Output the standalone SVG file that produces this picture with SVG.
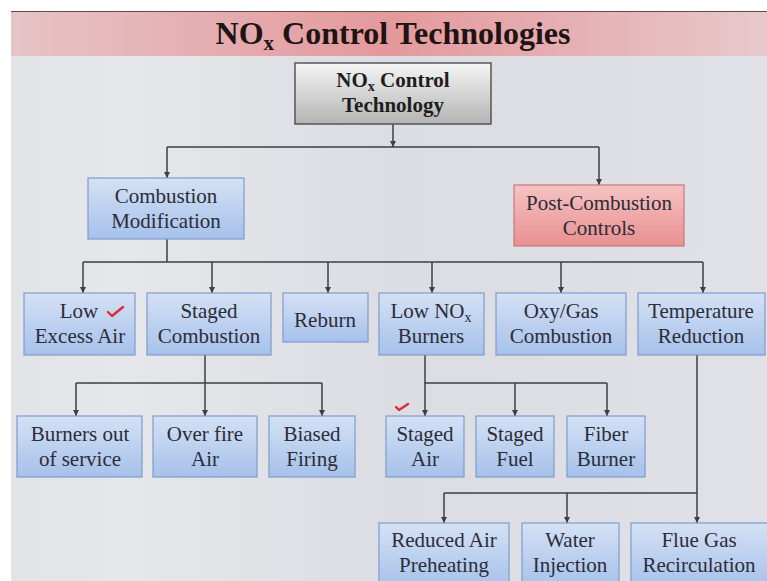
<svg xmlns="http://www.w3.org/2000/svg" width="767" height="581" viewBox="0 0 767 581">
<style>
.bx{fill:url(#gb);stroke:#7f9ccc;stroke-width:1.2}
.pk{fill:url(#gp);stroke:#c87878;stroke-width:1.2}
.rt{fill:url(#gr);stroke:#555;stroke-width:1.5}
.t{font-family:"Liberation Serif","Times New Roman",serif;font-size:21px;fill:#2c2c38;text-anchor:middle}
.tb{font-family:"Liberation Serif","Times New Roman",serif;font-size:21px;font-weight:bold;fill:#1e1e1e;text-anchor:middle}
.ln{fill:none;stroke:#3e3e44;stroke-width:1.5}
.ar{fill:none;stroke:#3e3e44;stroke-width:1.5;marker-end:url(#ah)}
.ck{fill:none;stroke:#e02a36;stroke-width:2.4;stroke-linecap:round;stroke-linejoin:round}
</style>
<defs>
<linearGradient id="gb" x1="0" y1="0" x2="0" y2="1"><stop offset="0" stop-color="#d4e1f5"/><stop offset="1" stop-color="#a6c1ea"/></linearGradient>
<linearGradient id="gp" x1="0" y1="0" x2="0" y2="1"><stop offset="0" stop-color="#f5c3c3"/><stop offset="1" stop-color="#e98f91"/></linearGradient>
<linearGradient id="gr" x1="0" y1="0" x2="0" y2="1"><stop offset="0" stop-color="#f5f5f5"/><stop offset="1" stop-color="#b4b4b4"/></linearGradient>
<linearGradient id="gbn" x1="0" y1="0" x2="1" y2="0"><stop offset="0" stop-color="#e6c4c7"/><stop offset="0.5" stop-color="#e4999c"/><stop offset="1" stop-color="#e7c9cc"/></linearGradient>
<linearGradient id="gbg" x1="0" y1="0" x2="1" y2="0"><stop offset="0" stop-color="#e2e3e7"/><stop offset="0.15" stop-color="#e6e7ea"/><stop offset="0.5" stop-color="#dcdde3"/><stop offset="1" stop-color="#e0e1e6"/></linearGradient>
<marker id="ah" viewBox="0 0 8 8" refX="8" refY="4" markerWidth="7" markerHeight="6" markerUnits="userSpaceOnUse" orient="auto"><path d="M0,0 L8,4 L0,8 z" fill="#3e3e44"/></marker>
</defs>
<rect x="0" y="0" width="767" height="581" fill="#ffffff"/>
<rect x="11" y="56" width="756" height="525" fill="url(#gbg)"/>
<rect x="11" y="11" width="756" height="45" fill="url(#gbn)"/>
<line x1="11" y1="11.5" x2="767" y2="11.5" stroke="#6b4a4a" stroke-width="1.2"/>
<text x="393" y="44" font-family="'Liberation Serif','Times New Roman',serif" font-size="32" font-weight="bold" fill="#1e1414" text-anchor="middle">NO<tspan font-size="21" dy="6">x</tspan><tspan dy="-6"> Control Technologies</tspan></text>

<g id="connectors">
<path class="ar" d="M393,124 V147"/>
<path class="ln" d="M167,147 H599"/>
<path class="ar" d="M167,147 V178"/>
<path class="ar" d="M599,147 V185"/>
<path class="ln" d="M167,239 V262 M83,262 H703"/>
<path class="ar" d="M83,262 V293"/>
<path class="ar" d="M212,262 V293"/>
<path class="ar" d="M328,262 V293"/>
<path class="ar" d="M432,262 V293"/>
<path class="ar" d="M561,262 V293"/>
<path class="ar" d="M703,262 V293"/>
<path class="ln" d="M205,355 V383 M76,383 H322"/>
<path class="ar" d="M76,383 V416"/>
<path class="ar" d="M205,383 V416"/>
<path class="ar" d="M322,383 V416"/>
<path class="ln" d="M425,355 V383 H607"/>
<path class="ar" d="M425,383 V416"/>
<path class="ar" d="M515,383 V416"/>
<path class="ar" d="M607,383 V416"/>
<path class="ar" d="M697,355 V523"/>
<path class="ln" d="M444,493 H697"/>
<path class="ar" d="M444,493 V523"/>
<path class="ar" d="M567,493 V523"/>
</g>

<g id="root"><rect class="rt" x="295" y="63" width="196" height="61"/>
<text class="tb" x="393" y="87">NO<tspan font-size="14" dy="4">x</tspan><tspan dy="-4"> Control</tspan></text>
<text class="tb" x="393" y="112">Technology</text></g>

<g id="comb-mod"><rect class="bx" x="88" y="178" width="156" height="61"/>
<text class="t" x="166" y="203">Combustion</text><text class="t" x="166" y="228">Modification</text></g>

<g id="post-comb"><rect class="pk" x="514" y="185" width="170" height="61"/>
<text class="t" x="599" y="210">Post-Combustion</text><text class="t" x="599" y="235">Controls</text></g>

<g id="low-excess-air"><rect class="bx" x="24" y="293" width="111" height="62"/>
<text class="t" x="79" y="318">Low</text><text class="t" x="80" y="343">Excess Air</text>
<path class="ck" d="M108,312 L112,316 L123,307"/></g>

<g id="staged-comb"><rect class="bx" x="147" y="293" width="124" height="62"/>
<text class="t" x="209" y="318">Staged</text><text class="t" x="209" y="343">Combustion</text></g>

<g id="reburn"><rect class="bx" x="283" y="293" width="85" height="49"/>
<text class="t" x="325" y="327">Reburn</text></g>

<g id="low-nox"><rect class="bx" x="379" y="293" width="105" height="62"/>
<text class="t" x="431" y="318">Low NO<tspan font-size="14" dy="4">x</tspan></text><text class="t" x="431" y="343">Burners</text></g>

<g id="oxy-gas"><rect class="bx" x="496" y="293" width="130" height="62"/>
<text class="t" x="561" y="318">Oxy/Gas</text><text class="t" x="561" y="343">Combustion</text></g>

<g id="temp-red"><rect class="bx" x="638" y="293" width="127" height="62"/>
<text class="t" x="701" y="318">Temperature</text><text class="t" x="701" y="343">Reduction</text></g>

<g id="burners-out"><rect class="bx" x="17" y="416" width="125" height="61"/>
<text class="t" x="80" y="441">Burners out</text><text class="t" x="80" y="466">of service</text></g>

<g id="over-fire"><rect class="bx" x="153" y="416" width="104" height="61"/>
<text class="t" x="205" y="441">Over fire</text><text class="t" x="205" y="466">Air</text></g>

<g id="biased"><rect class="bx" x="269" y="416" width="86" height="61"/>
<text class="t" x="312" y="441">Biased</text><text class="t" x="312" y="466">Firing</text></g>

<g id="staged-air"><rect class="bx" x="386" y="416" width="78" height="61"/>
<text class="t" x="425" y="441">Staged</text><text class="t" x="425" y="466">Air</text>
<path class="ck" d="M396,407 L399,410 L408,404"/></g>

<g id="staged-fuel"><rect class="bx" x="476" y="416" width="78" height="61"/>
<text class="t" x="515" y="441">Staged</text><text class="t" x="515" y="466">Fuel</text></g>

<g id="fiber"><rect class="bx" x="567" y="416" width="78" height="61"/>
<text class="t" x="606" y="441">Fiber</text><text class="t" x="606" y="466">Burner</text></g>

<g id="reduced-air"><rect class="bx" x="379" y="523" width="130" height="66"/>
<text class="t" x="444" y="547">Reduced Air</text><text class="t" x="444" y="572">Preheating</text></g>

<g id="water"><rect class="bx" x="522" y="523" width="97" height="66"/>
<text class="t" x="570" y="547">Water</text><text class="t" x="570" y="572">Injection</text></g>

<g id="flue-gas"><rect class="bx" x="631" y="523" width="140" height="66"/>
<text class="t" x="699" y="547">Flue Gas</text><text class="t" x="699" y="572">Recirculation</text></g>
</svg>
